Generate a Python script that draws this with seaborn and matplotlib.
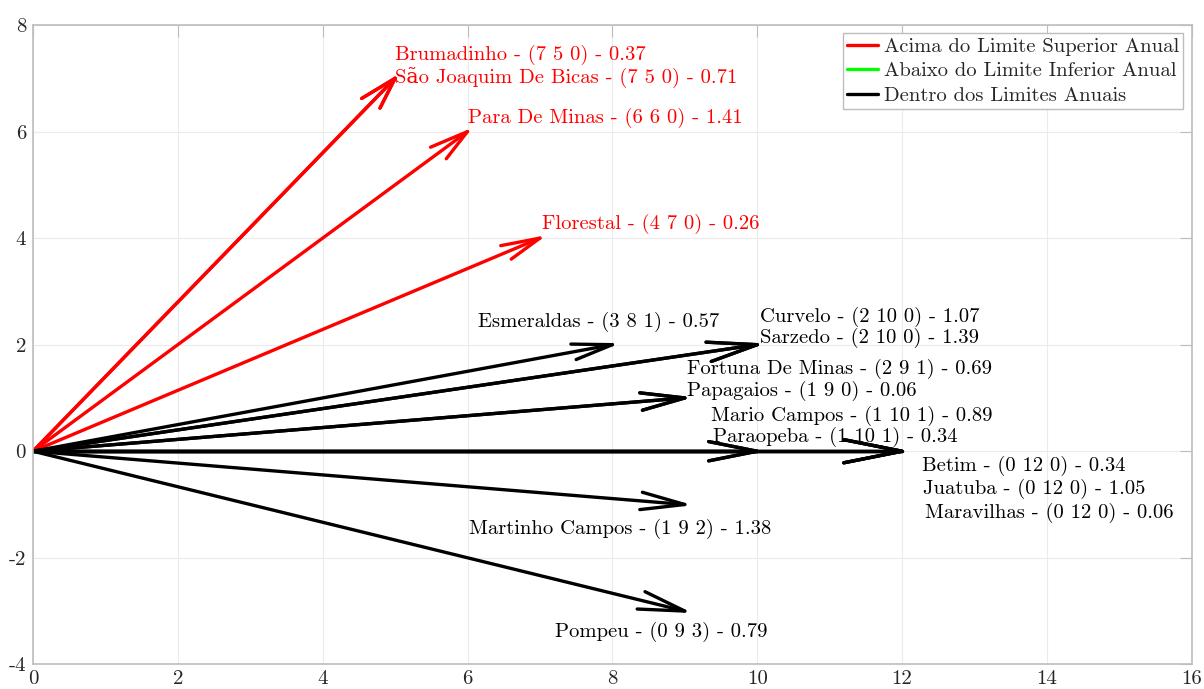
import numpy as np
import pandas as pd
import matplotlib
matplotlib.use("Agg")
import matplotlib.pyplot as plt
from matplotlib.lines import Line2D
import seaborn as sns

# Stations and their counts (above, inside, below the annual limits) and score
names = ["Brumadinho", "São Joaquim De Bicas", "Para De Minas", "Florestal",
         "Esmeraldas", "Curvelo", "Sarzedo", "Fortuna De Minas", "Papagaios",
         "Mario Campos", "Paraopeba", "Betim", "Juatuba", "Maravilhas",
         "Martinho Campos", "Pompeu"]
above = [7, 7, 6, 4, 3, 2, 2, 2, 1, 1, 1, 0, 0, 0, 1, 0]
inside = [5, 5, 6, 7, 8, 10, 10, 9, 9, 10, 10, 12, 12, 12, 9, 9]
below = [0, 0, 0, 0, 1, 0, 0, 1, 0, 1, 1, 0, 0, 0, 2, 3]
scores = [0.37, 0.71, 1.41, 0.26, 0.57, 1.07, 1.39, 0.69, 0.06, 0.89, 0.34,
          0.34, 1.05, 0.06, 1.38, 0.79]
status = ["Acima"] * 4 + ["Dentro"] * 12

legend_labels = {"Acima": "Acima do Limite Superior Anual",
                 "Abaixo": "Abaixo do Limite Inferior Anual",
                 "Dentro": "Dentro dos Limites Anuais"}
colors = {"Acima": "#ff0000", "Abaixo": "#00ff00", "Dentro": "#000000"}

# Where each station label sits (left edge, vertical centre), in data units
label_x = [5.0, 5.0, 6.0, 7.03, 6.14, 10.04, 10.04, 9.03, 9.03, 9.36, 9.39,
           12.28, 12.29, 12.32, 6.02, 7.21]
label_y = [7.43, 7.02, 6.25, 4.26, 2.42, 2.53, 2.12, 1.54, 1.13, 0.66, 0.26,
           -0.28, -0.71, -1.16, -1.46, -3.40]

sns.set_theme(style="whitegrid")
plt.rcParams["font.family"] = ["cmr10", "DejaVu Serif"]
plt.rcParams["mathtext.fontset"] = "cm"
plt.rcParams["axes.unicode_minus"] = False

# Build arrow paths: shaft from the origin plus a two-stroke open head
alpha, beta = 0.067, 0.27
rows = []
seg = 0
for n, a, b, c, s in zip(names, above, inside, below, status):
    u, v = float(b), float(a - c)
    rows += [dict(seg=seg, order=0, x=0.0, y=0.0, status=s),
             dict(seg=seg, order=1, x=u, y=v, status=s)]
    seg += 1
    h1 = (u - alpha * (u + beta * v), v - alpha * (v - beta * u))
    h2 = (u - alpha * (u - beta * v), v - alpha * (v + beta * u))
    rows += [dict(seg=seg, order=0, x=h1[0], y=h1[1], status=s),
             dict(seg=seg, order=1, x=u, y=v, status=s),
             dict(seg=seg, order=2, x=h2[0], y=h2[1], status=s)]
    seg += 1
df = pd.DataFrame(rows)

fig = plt.figure(figsize=(12.04, 6.89), dpi=100)
ax = fig.add_axes([0.0274, 0.0358, 0.9624, 0.9279])

sns.lineplot(data=df, x="x", y="y", hue="status", units="seg",
             estimator=None, sort=False, palette=colors, linewidth=2.4,
             legend=False, ax=ax, solid_capstyle="round",
             solid_joinstyle="round")

for n, a, b, c, sc, s, lx, ly in zip(names, above, inside, below, scores,
                                     status, label_x, label_y):
    ax.text(lx, ly, f"{n} - ({a} {b} {c}) - {sc:.2f}", color=colors[s],
            fontsize=14.85, ha="left", va="center")

ax.set_xlim(0, 16)
ax.set_ylim(-4, 8)
ax.set_xticks(np.arange(0, 17, 2))
ax.set_yticks(np.arange(-4, 9, 2))
ax.set_xlabel("")
ax.set_ylabel("")
ax.grid(True, color="#ebebeb", linewidth=0.8)
for sp in ax.spines.values():
    sp.set_visible(True)
    sp.set_color("#bdbdbd")
    sp.set_linewidth(1.2)
ax.tick_params(direction="in", length=8.5, width=0.8, color="#bdbdbd",
               top=True, right=True, labelsize=15, labelcolor="#262626",
               pad=5)
ax.tick_params(axis="x", pad=4)

handles = [Line2D([0], [0], color=colors[k], lw=2.4) for k in legend_labels]
leg = ax.legend(handles, list(legend_labels.values()), loc="upper right",
                fontsize=14.8, frameon=True, fancybox=False, framealpha=1,
                edgecolor="#bdbdbd", handlelength=1.5, handletextpad=0.3,
                labelspacing=0.3, borderpad=0.2, borderaxespad=0.4)
leg.get_frame().set_linewidth(1.0)

fig.savefig("out.png", dpi=100)
